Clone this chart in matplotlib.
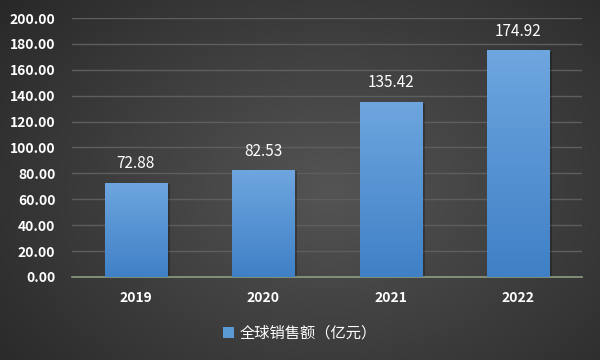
import matplotlib.pyplot as plt
import numpy as np
from matplotlib.patches import Rectangle
from matplotlib.colors import LinearSegmentedColormap

plt.rcParams['font.family'] = ['Noto Sans CJK SC', 'DejaVu Sans']

years = ['2019', '2020', '2021', '2022']
sales = [72.88, 82.53, 135.42, 174.92]
series_name = '全球销售额（亿元）'

fig = plt.figure(figsize=(6, 3.6), dpi=100)

# radial background
bg = fig.add_axes([0, 0, 1, 1], zorder=-10)
yy, xx = np.mgrid[0:360, 0:600]
r = np.sqrt(((xx - 330) / 420.0) ** 2 + ((yy - 190) / 300.0) ** 2)
shade = np.clip(0.33 - 0.17 * r, 0.15, 0.33)
bg.imshow(np.dstack([shade, shade, shade]), aspect='auto', extent=[0, 1, 0, 1])
bg.axis('off')

ax = fig.add_axes([0.12, 0.2306, 0.85, 0.7194])
ax.set_facecolor('none')
x = np.arange(len(years))
width = 0.49

grad = np.linspace(0, 1, 256).reshape(-1, 1)
cmap = LinearSegmentedColormap.from_list('bar', ['#3f80c6', '#6ea6df'])
for xi, v in zip(x, sales):
    # shadow
    ax.add_patch(Rectangle((xi - width / 2 + 0.02, 0), width, v - 1.0,
                           facecolor='black', alpha=0.25, edgecolor='none', zorder=2))
    rect = Rectangle((xi - width / 2, 0), width, v, facecolor='none', edgecolor='none', zorder=3)
    ax.add_patch(rect)
    im = ax.imshow(grad, cmap=cmap, origin='lower', aspect='auto',
                   extent=[xi - width / 2, xi + width / 2, 0, v], zorder=3)
    im.set_clip_path(rect)
    ax.text(xi, v + 8, f'{v:.2f}', ha='center', va='bottom', color='white',
            fontsize=11)

ax.set_xlim(-0.5, 3.5)
ax.set_ylim(0, 200)
ax.set_yticks(np.arange(0, 201, 20))
ax.set_yticklabels([f'{t:.2f}' for t in np.arange(0, 201, 20)])
ax.set_xticks(x)
ax.set_xticklabels(years)
ax.yaxis.grid(True, color='#5e5e5e', linewidth=1)
ax.set_axisbelow(True)
for s in ['top', 'right', 'left']:
    ax.spines[s].set_visible(False)
ax.spines['bottom'].set_color('#8c9c84')
ax.spines['bottom'].set_linewidth(1.2)
ax.tick_params(axis='both', length=0, colors='white', labelsize=10)
ax.tick_params(axis='x', pad=10)
ax.tick_params(axis='y', pad=12)
for lab in ax.get_xticklabels() + ax.get_yticklabels():
    lab.set_fontweight('bold')

handle = Rectangle((0, 0), 1, 1, facecolor='#5b9bd5', edgecolor='none')
fig.legend([handle], [series_name], loc='center', bbox_to_anchor=(0.5, 0.075),
           frameon=False, labelcolor='white', fontsize=11,
           handlelength=0.7, handleheight=0.7, handletextpad=0.4)

fig.savefig('out.png', dpi=100)
